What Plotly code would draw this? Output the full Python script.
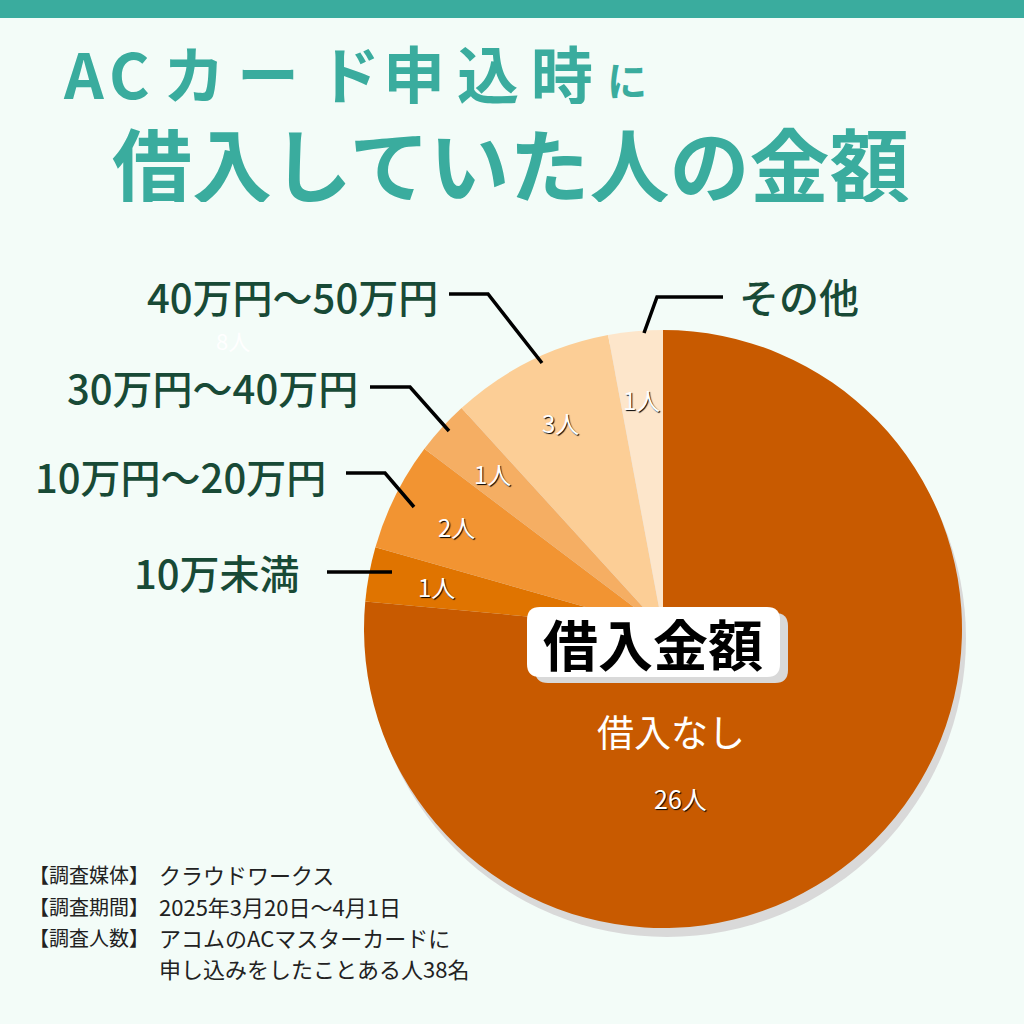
import math
import plotly.graph_objects as go

# data
categories = ["借入なし", "10万未満", "10万円～20万円", "30万円～40万円", "40万円～50万円", "その他"]
counts = [26, 1, 2, 1, 3, 1]
slice_colors = ["#C85A00", "#E07400", "#F29432", "#F5AE63", "#FCCE96", "#FDE6CB"]

FONT = "Noto Sans CJK JP"
TEAL = "#3AAC9E"
LABEL_GREEN = "#184A36"
BG = "#F3FCF8"

# pie geometry in pixels (1024 x 1024 page)
W = H = 1024
CX, CY, R = 663, 629, 299

fig = go.Figure()

# empty trace so pixel-based axes exist for shapes / annotations
fig.add_trace(go.Scatter(x=[], y=[], showlegend=False, hoverinfo="skip"))

fig.add_trace(go.Pie(
    labels=categories,
    values=counts,
    sort=False,
    direction="clockwise",
    marker=dict(colors=slice_colors, line=dict(width=0)),
    textinfo="none",
    hoverinfo="label+value",
    showlegend=False,
    domain=dict(x=[(CX - R) / W, (CX + R) / W], y=[1 - (CY + R) / H, 1 - (CY - R) / H]),
))

shapes = []
annotations = []

# top bar
shapes.append(dict(type="rect", x0=0, x1=W, y0=0, y1=18, fillcolor=TEAL, line_width=0, layer="below"))
# pie shadow
shapes.append(dict(type="circle", x0=CX - R + 4, x1=CX + R + 4, y0=CY - R + 9, y1=CY + R + 9,
                   fillcolor="#D9D9D9", line_width=0, layer="below"))

# title line 1, one char at a time (wide letter spacing)
title1 = ["A", "C", "カ", "ー", "ド", "申", "込", "時"]
title1_x = [83, 129, 194, 268, 349, 414, 488, 562]
for ch, x in zip(title1, title1_x):
    annotations.append(dict(x=x, y=72, text=ch, showarrow=False, xanchor="center", yanchor="middle",
                            height=64,
                            font=dict(family=FONT, size=62, color=TEAL, weight="bold")))
annotations.append(dict(x=627, y=79, text="に", showarrow=False, xanchor="center", yanchor="middle",
                        height=40,
                        font=dict(family=FONT, size=40, color=TEAL, weight="bold")))
# title line 2
annotations.append(dict(x=511, y=161, text="借入していた人の金額", showarrow=False, xanchor="center", yanchor="middle",
                        height=82,
                        font=dict(family=FONT, size=80, color=TEAL, weight="bold")))

# value labels inside small slices, on the bisector of each slice
total = sum(counts)
cum = 0
for name, v in zip(categories, counts):
    mid = (cum + v / 2) / total * 2 * math.pi
    cum += v
    if name == "借入なし":
        continue
    r = 0.77 * R
    annotations.append(dict(x=CX + r * math.sin(mid), y=CY - r * math.cos(mid), text=f"{v}人",
                            showarrow=False, xanchor="center", yanchor="middle",
                            font=dict(family=FONT, size=24, color="white", shadow="1px 1px 1px #000")))

# big slice labels
annotations.append(dict(x=671, y=731, text=categories[0], showarrow=False,
                        font=dict(family=FONT, size=37, color="white")))
annotations.append(dict(x=680, y=798, text=f"{counts[0]}人", showarrow=False,
                        font=dict(family=FONT, size=25, color="white", shadow="1px 1px 1px #000")))
# faded leftover label
annotations.append(dict(x=233, y=340, text="8人", showarrow=False,
                        font=dict(family=FONT, size=22, color="#FFFFFF")))

# outside category labels
outside = [
    ("40万円～50万円", 440, 296, "right"),
    ("30万円～40万円", 360, 387, "right"),
    ("10万円～20万円", 328, 476, "right"),
    ("10万未満", 302, 572, "right"),
    ("その他", 737, 296, "left"),
]
for txt, x, y, anc in outside:
    annotations.append(dict(x=x, y=y, text=txt, showarrow=False, xanchor=anc, yanchor="middle",
                            font=dict(family=FONT, size=40, color=LABEL_GREEN, weight=500)))

# leader lines
leaders = [
    "M 449 294 L 488 294 L 542 363",
    "M 370 387 L 410 387 L 449 431",
    "M 346 473 L 385 473 L 414 507",
    "M 327 572 L 392 572",
    "M 723 297 L 657 297 L 644 333",
]
for p in leaders:
    shapes.append(dict(type="path", path=p, line=dict(color="#000000", width=3.5)))

# center label box with shadow
def rounded(x0, y0, x1, y1, r):
    return (f"M {x0 + r} {y0} L {x1 - r} {y0} Q {x1} {y0} {x1} {y0 + r} L {x1} {y1 - r} "
            f"Q {x1} {y1} {x1 - r} {y1} L {x0 + r} {y1} Q {x0} {y1} {x0} {y1 - r} "
            f"L {x0} {y0 + r} Q {x0} {y0} {x0 + r} {y0} Z")

shapes.append(dict(type="path", path=rounded(535, 613, 788, 683, 13), fillcolor="#D9D9D9", line_width=0))
shapes.append(dict(type="path", path=rounded(527, 607, 780, 677, 13), fillcolor="white", line_width=0))
annotations.append(dict(x=653, y=642, text="借入金額", showarrow=False, xanchor="center", yanchor="middle",
                        font=dict(family=FONT, size=55, color="#000000", weight="bold")))

# survey notes
notes = [
    ("【調査媒体】", "クラウドワークス", 874),
    ("【調査期間】", "2025年3月20日～4月1日", 906),
    ("【調査人数】", "アコムのACマスターカードに", 937),
    ("", "申し込みをしたことある人38名", 968),
]
for head, body, y in notes:
    if head:
        annotations.append(dict(x=27, y=y, text=head, showarrow=False, xanchor="left", yanchor="middle",
                                font=dict(family=FONT, size=20, color="#222222")))
    annotations.append(dict(x=157, y=y, text=body, showarrow=False, xanchor="left", yanchor="middle",
                            font=dict(family=FONT, size=22, color="#222222")))

fig.update_layout(
    width=W, height=H,
    margin=dict(l=0, r=0, t=0, b=0),
    paper_bgcolor=BG, plot_bgcolor=BG,
    xaxis=dict(range=[0, W], visible=False, fixedrange=True, domain=[0, 1]),
    yaxis=dict(range=[H, 0], visible=False, fixedrange=True, domain=[0, 1]),
    shapes=shapes,
    annotations=annotations,
)

fig.write_html("out.html", config={"displayModeBar": False},
               post_script="document.body.style.margin='0';")
